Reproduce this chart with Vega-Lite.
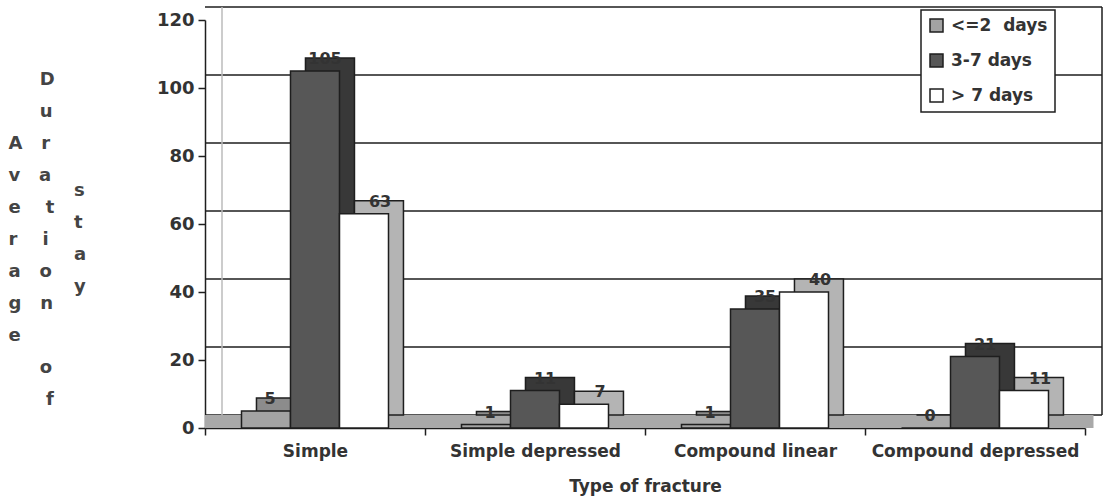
{
  "$schema": "https://vega.github.io/schema/vega-lite/v6.json",
  "width": 880,
  "height": 408,
  "autosize": {"type": "none"},
  "padding": {"left": 205, "top": 20, "right": 25, "bottom": 73},
  "background": "white",
  "title": {
    "text": ["s", "t", "a", "y"],
    "orient": "top", "anchor": "start", "frame": "group", "align": "left", "baseline": "top",
    "lineHeight": 32, "offset": 0, "dx": -131, "dy": 290,
    "font": "DejaVu Sans", "fontSize": 18, "fontWeight": "bold", "color": "#444444"
  },
  "config": {
    "view": {"stroke": null},
    "font": "DejaVu Sans",
    "legend": {"strokeColor": "#1e1e1e", "fillColor": "white", "strokeWidth": 1.5},
    "axisX": {
      "labelAngle": 0, "labelFont": "DejaVu Sans", "labelFontSize": 17, "labelFontWeight": "bold", "labelColor": "#333333", "labelLimit": 400,
      "tickBand": "extent", "tickSize": 7, "tickColor": "#1e1e1e", "tickWidth": 1.5,
      "domainColor": "#1e1e1e", "domainWidth": 1.5, "labelPadding": 8, "grid": false,
      "titleFont": "DejaVu Sans", "titleFontSize": 17, "titleFontWeight": "bold", "titleColor": "#333333", "titlePadding": 19
    },
    "axisY": {
      "grid": false,
      "labelFont": "DejaVu Sans", "labelFontSize": 18, "labelFontWeight": "bold", "labelColor": "#333333", "labelPadding": 4,
      "tickSize": 7, "tickColor": "#1e1e1e", "tickWidth": 1.5, "domainColor": "#1e1e1e", "domainWidth": 1.5,
      "titleAngle": 0, "titleAlign": "left", "titleBaseline": "top", "titleX": -197, "titleY": 50,
      "titleFont": "DejaVu Sans", "titleFontSize": 18, "titleFontWeight": "bold", "titleColor": "#444444", "titleLineHeight": 32
    }
  },
  "datasets": {
    "bars": [
      {"fracture": "Simple", "duration": "<=2 days", "count": 5},
      {"fracture": "Simple", "duration": "3-7 days", "count": 105},
      {"fracture": "Simple", "duration": "> 7 days", "count": 63},
      {"fracture": "Simple depressed", "duration": "<=2 days", "count": 1},
      {"fracture": "Simple depressed", "duration": "3-7 days", "count": 11},
      {"fracture": "Simple depressed", "duration": "> 7 days", "count": 7},
      {"fracture": "Compound linear", "duration": "<=2 days", "count": 1},
      {"fracture": "Compound linear", "duration": "3-7 days", "count": 35},
      {"fracture": "Compound linear", "duration": "> 7 days", "count": 40},
      {"fracture": "Compound depressed", "duration": "<=2 days", "count": 0},
      {"fracture": "Compound depressed", "duration": "3-7 days", "count": 21},
      {"fracture": "Compound depressed", "duration": "> 7 days", "count": 11}
    ],
    "grid": [{"v": 0}, {"v": 20}, {"v": 40}, {"v": 60}, {"v": 80}, {"v": 100}, {"v": 120}]
  },
  "resolve": {"scale": {"color": "independent", "xOffset": "independent"}},
  "layer": [
    {
      "data": {"name": "grid"},
      "mark": {"type": "rule", "color": "#1e1e1e", "strokeWidth": 1.5, "yOffset": -13, "xOffset": 17},
      "encoding": {
        "y": {"field": "v", "type": "quantitative", "scale": {"domain": [0, 120], "nice": false}}
      }
    },
    {
      "data": {"name": "grid"},
      "transform": [{"filter": "datum.v == 0"}],
      "mark": {"type": "rule", "color": "#a9a9a9", "strokeWidth": 13, "xOffset": 8.5, "yOffset": -6.5},
      "encoding": {
        "y": {"field": "v", "type": "quantitative", "scale": {"domain": [0, 120], "nice": false}}
      }
    },
    {
      "data": {"name": "grid"},
      "transform": [{"filter": "datum.v == 0"}],
      "mark": {"type": "rule", "color": "#bbbbbb", "strokeWidth": 1.5, "xOffset": 17, "yOffset": -13, "y2Offset": -13},
      "encoding": {
        "x": {"datum": "Simple", "type": "nominal", "bandPosition": 0, "scale": {"domain": ["Simple", "Simple depressed", "Compound linear", "Compound depressed"], "paddingInner": 0, "paddingOuter": 0}},
        "y": {"datum": 0, "type": "quantitative", "scale": {"domain": [0, 120], "nice": false}},
        "y2": {"datum": 120}
      }
    },
    {
      "data": {"name": "grid"},
      "transform": [{"filter": "datum.v == 0"}],
      "mark": {"type": "rule", "color": "#1e1e1e", "strokeWidth": 1.5, "xOffset": 17, "yOffset": -13, "y2Offset": -13},
      "encoding": {
        "x": {"datum": "Compound depressed", "type": "nominal", "bandPosition": 1, "scale": {"domain": ["Simple", "Simple depressed", "Compound linear", "Compound depressed"], "paddingInner": 0, "paddingOuter": 0}},
        "y": {"datum": 0, "type": "quantitative", "scale": {"domain": [0, 120], "nice": false}},
        "y2": {"datum": 120}
      }
    },
    {
      "data": {"name": "bars"},
      "mark": {"type": "bar", "stroke": "#1e1e1e", "strokeWidth": 1.5, "yOffset": -13, "y2Offset": -13},
      "encoding": {
        "x": {"field": "fracture", "type": "nominal", "scale": {"domain": ["Simple", "Simple depressed", "Compound linear", "Compound depressed"], "paddingInner": 0, "paddingOuter": 0}},
        "xOffset": {"field": "duration", "type": "nominal", "scale": {"domain": ["<=2 days", "3-7 days", "> 7 days"], "paddingInner": 0, "paddingOuter": 0.745, "align": 0.705}},
        "y": {"field": "count", "type": "quantitative", "scale": {"domain": [0, 120], "nice": false}},
        "color": {"field": "duration", "type": "nominal", "scale": {"domain": ["<=2 days", "3-7 days", "> 7 days"], "range": ["#8c8c8c", "#383838", "#b4b4b4"]}, "legend": null}
      }
    },
    {
      "data": {"name": "bars"},
      "mark": {"type": "bar", "stroke": "#1e1e1e", "strokeWidth": 1.5},
      "encoding": {
        "x": {
          "field": "fracture", "type": "nominal",
          "scale": {"domain": ["Simple", "Simple depressed", "Compound linear", "Compound depressed"], "paddingInner": 0, "paddingOuter": 0},
          "title": "Type of fracture",
          "axis": {"tickBand": "extent", "labelAngle": 0, "labelLimit": 400}
        },
        "xOffset": {"field": "duration", "type": "nominal", "scale": {"domain": ["<=2 days", "3-7 days", "> 7 days"], "paddingInner": 0, "paddingOuter": 0.745}},
        "y": {
          "field": "count", "type": "quantitative",
          "scale": {"domain": [0, 120], "nice": false},
          "title": ["\u200b\u00a0\u00a0\u00a0\u00a0\u00a0D", "\u200b\u00a0\u00a0\u00a0\u00a0\u00a0u", "A\u00a0\u00a0\u00a0r", "v\u00a0\u00a0\u00a0a", "e\u00a0\u00a0\u00a0\u00a0t", "r\u00a0\u00a0\u00a0\u00a0i", "a\u00a0\u00a0\u00a0o", "g\u00a0\u00a0\u00a0n", "e", "\u200b\u00a0\u00a0\u00a0\u00a0\u00a0o", "\u200b\u00a0\u00a0\u00a0\u00a0\u00a0\u00a0f"],
          "axis": {"values": [0, 20, 40, 60, 80, 100, 120], "grid": false}
        },
        "color": {
          "field": "duration", "type": "nominal",
          "scale": {"domain": ["<=2 days", "3-7 days", "> 7 days"], "range": ["#a3a3a3", "#575757", "#ffffff"]},
          "legend": {
            "title": null, "orient": "none", "legendX": 716, "legendY": -10,
            "symbolType": "square", "symbolSize": 169, "symbolStrokeColor": "#1e1e1e", "symbolStrokeWidth": 1.5,
            "labelFont": "DejaVu Sans", "labelFontSize": 17, "labelFontWeight": "bold", "labelColor": "#333333",
            "labelOffset": 6, "rowPadding": 16, "padding": 7,
            "labelExpr": "datum.label == '<=2 days' ? '<=2\u00a0 days' : datum.label"
          }
        }
      }
    },
    {
      "data": {"name": "bars"},
      "mark": {"type": "text", "font": "DejaVu Sans", "fontSize": 16, "fontWeight": "bold", "color": "#333333", "dx": 10, "dy": -12, "baseline": "middle"},
      "encoding": {
        "x": {"field": "fracture", "type": "nominal", "scale": {"domain": ["Simple", "Simple depressed", "Compound linear", "Compound depressed"], "paddingInner": 0, "paddingOuter": 0}},
        "xOffset": {"field": "duration", "type": "nominal", "scale": {"type": "point", "domain": ["<=2 days", "3-7 days", "> 7 days"], "padding": 1.245}},
        "y": {"field": "count", "type": "quantitative", "scale": {"domain": [0, 120], "nice": false}},
        "text": {"field": "count", "type": "quantitative"}
      }
    }
  ]
}
